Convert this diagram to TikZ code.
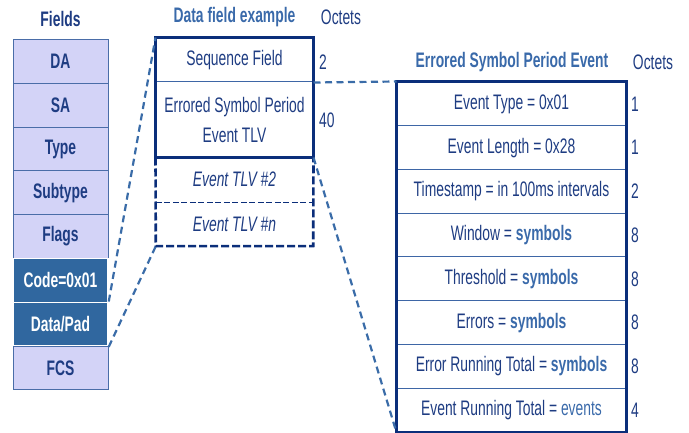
\documentclass[tikz,border=0pt]{standalone}
\usepackage{fontspec}
\setmainfont{Liberation Sans}[FakeStretch=0.66]
\definecolor{navy}{HTML}{0B2E7A}
\definecolor{ink}{HTML}{1E3C82}
\definecolor{midblue}{HTML}{3A6AAA}
\definecolor{lav}{HTML}{D3D3F7}
\definecolor{darkcell}{HTML}{30679F}
\definecolor{rule}{HTML}{3E66A6}
\definecolor{cellborder}{HTML}{4A6DA8}
\definecolor{link}{HTML}{3A6CA8}
\begin{document}
\begin{tikzpicture}[x=1pt,y=-1pt,
  bigtext/.style={font=\fontsize{21}{30}\selectfont},
  fieldcell/.style={bigtext, draw=cellborder, line width=1pt, fill=lav,
    minimum width=95pt, minimum height=43.8pt, inner sep=0pt, text=ink,
    font=\fontsize{21}{30}\selectfont\bfseries},
  darkfield/.style={fieldcell, fill=darkcell, draw=white, line width=1.5pt, text=white},
  datacell/.style={bigtext, draw=rule, line width=1pt, minimum width=157pt,
    inner sep=0pt, text=ink, align=center},
  tlvcell/.style={bigtext, minimum width=157pt, inner sep=0pt, text=ink,
    font=\fontsize{21}{30}\selectfont\itshape},
  eventcell/.style={bigtext, draw=rule, line width=1pt, minimum width=229pt,
    minimum height=43.75pt, inner sep=0pt, text=ink},
  octet/.style={bigtext, anchor=west, inner sep=0pt, text=ink},
  title/.style={bigtext, inner sep=0pt, text=midblue, font=\fontsize{21}{30}\selectfont\bfseries},
  frame/.style={draw=navy, line width=2.6pt},
  dashframe/.style={draw=navy, line width=2.6pt, dash pattern=on 8pt off 3pt},
  thindash/.style={draw=navy, line width=1.2pt, dash pattern=on 6pt off 2.5pt},
  link/.style={draw=link, line width=2.2pt, dash pattern=on 7pt off 4.5pt},
  hl/.style={text=midblue, font=\bfseries}
]
\useasboundingbox (0,0) rectangle (689,433);

% ---- frame fields ----
\node[title, text=ink] (ftitle) at (60.5,19) {Fields};
\node[fieldcell] (da)   at (60.5, 61.4) {DA};
\node[fieldcell] (sa)   at (60.5,105.2) {SA};
\node[fieldcell] (type) at (60.5,149.0) {Type};
\node[fieldcell] (sub)  at (60.5,192.8) {Subtype};
\node[fieldcell] (flg)  at (60.5,236.6) {Flags};
\node[darkfield] (code) at (60.5,280.4) {Code=0x01};
\node[darkfield] (data) at (60.5,324.2) {Data/Pad};
\node[fieldcell] (fcs)  at (60.5,368.0) {FCS};

% ---- data field ----
\node[title] (dtitle) at (234.5,17) {Data field example};
\node[octet, anchor=center, font=\fontsize{21}{30}\selectfont] (doct) at (341,17) {Octets};
\node[datacell, minimum height=44pt] (seq) at (234.5,60) {Sequence Field};
\node[datacell, minimum height=75pt] (esp) at (234.5,119.5) {Errored Symbol Period\\Event TLV};
\node[tlvcell, minimum height=45pt] (tlv2) at (234.5,179.5) {Event TLV \#2};
\node[tlvcell, minimum height=44pt] (tlvn) at (234.5,224) {Event TLV \#n};
\node[octet] (o2)  at (319,62) {2};
\node[octet] (o40) at (319,120) {40};

\draw[frame] (seq.north west) rectangle (esp.south east);
\draw[dashframe] (esp.south west) -- (tlvn.south west) -- (tlvn.south east) -- (esp.south east);
\draw[thindash] (tlv2.south west) -- (tlv2.south east);

% ---- event TLV ----
\node[title] (etitle) at (512,62) {Errored Symbol Period Event};
\node[octet, anchor=center, font=\fontsize{21}{30}\selectfont] (eoct) at (653,62) {Octets};
\node[eventcell] (e1) at (511.5,103.875) {Event Type = 0x01};
\node[eventcell] (e2) at (511.5,147.625) {Event Length = 0x28};
\node[eventcell] (e3) at (511.5,191.375) {Timestamp = in 100ms intervals};
\node[eventcell] (e4) at (511.5,235.125) {Window = {\color{midblue}\bfseries symbols}};
\node[eventcell] (e5) at (511.5,278.875) {Threshold = {\color{midblue}\bfseries symbols}};
\node[eventcell] (e6) at (511.5,322.625) {Errors = {\color{midblue}\bfseries symbols}};
\node[eventcell] (e7) at (511.5,366.375) {Error Running Total = {\color{midblue}\bfseries symbols}};
\node[eventcell] (e8) at (511.5,410.125) {Event Running Total = {\color{midblue}events}};
\draw[frame] (e1.north west) rectangle (e8.south east);
\node[octet] (q1) at (631,103.875) {1};
\node[octet] (q2) at (631,147.625) {1};
\node[octet] (q3) at (631,191.375) {2};
\node[octet] (q4) at (631,235.125) {8};
\node[octet] (q5) at (631,278.875) {8};
\node[octet] (q6) at (631,322.625) {8};
\node[octet] (q7) at (631,366.375) {8};
\node[octet] (q8) at (631,410.125) {4};

% ---- expansion lines ----
\draw[link] (data.north east) -- (seq.north west);
\draw[link] (data.south east) -- (tlvn.south west);
\draw[link] (seq.south east) -- (e1.north west);
\draw[link] (esp.south east) -- (e8.south west);
\end{tikzpicture}
\end{document}
